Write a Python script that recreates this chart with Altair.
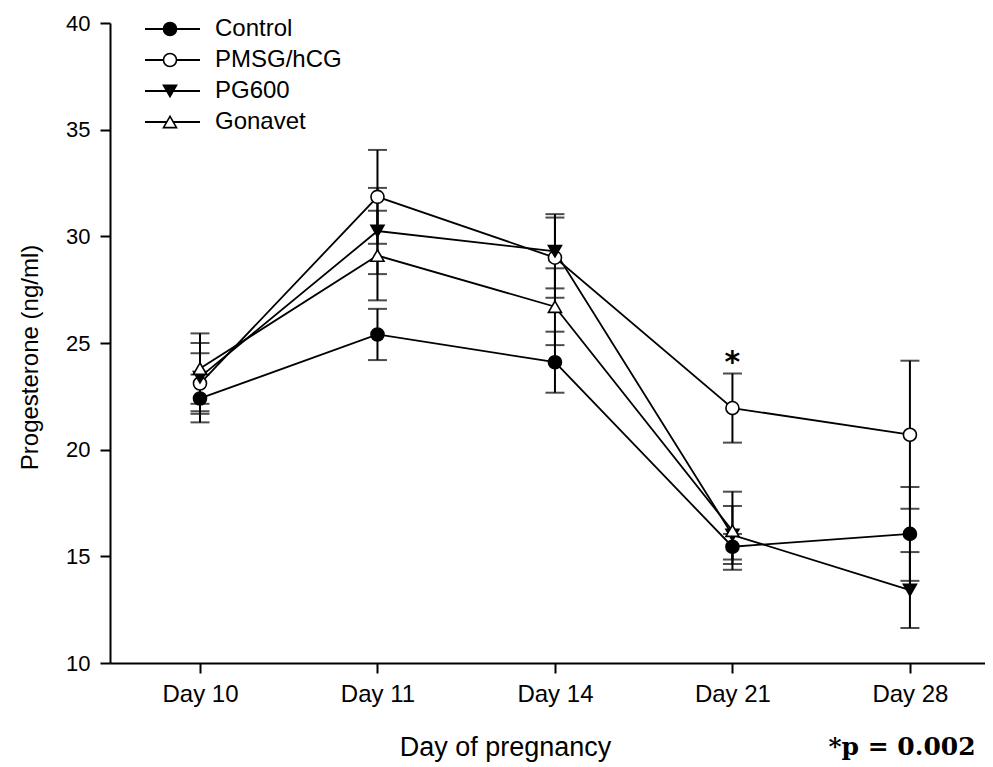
import altair as alt
import pandas as pd

days = ["Day 10", "Day 11", "Day 14", "Day 21", "Day 28"]
groups = ["Control", "PMSG/hCG", "PG600", "Gonavet"]

control_mean = [22.4, 25.4, 24.1, 15.45, 16.05]
control_sem = [1.12, 1.2, 1.43, 0.6, 2.2]
pmsg_mean = [23.1, 31.85, 29.0, 21.95, 20.7]
pmsg_sem = [1.42, 2.2, 1.88, 1.62, 3.47]
pg600_mean = [23.4, 30.25, 29.3, 16.0, 13.42]
pg600_sem = [1.6, 2.02, 1.74, 1.36, 1.78]
gonavet_mean = [23.8, 29.1, 26.7, 16.2, None]
gonavet_sem = [1.65, 2.1, 1.8, 1.83, None]

shapes = ["circle", "circle", "triangle-down", "triangle-up"]
fills = ["black", "white", "black", "white"]

means = [control_mean, pmsg_mean, pg600_mean, gonavet_mean]
sems = [control_sem, pmsg_sem, pg600_sem, gonavet_sem]

rows = []
for g, m_list, s_list in zip(groups, means, sems):
    for i, (d, m, s) in enumerate(zip(days, m_list, s_list)):
        if m is None:
            continue
        rows.append({"group": g, "idx": i, "day": d, "mean": m,
                     "lo": m - s, "hi": m + s})
df = pd.DataFrame(rows)

leg = pd.DataFrame({"group": groups, "i": list(range(len(groups)))})
star = pd.DataFrame({"idx": [3], "y": [24.35], "t": ["*"]})

FONT = "Liberation Sans"
YMIN, YMAX = 10, 40
H = 640
W = 875

xscale = alt.Scale(domain=[-0.507, 4.423], nice=False, zero=False)
yscale = alt.Scale(domain=[YMIN, YMAX], nice=False, zero=False)
shape_scale = alt.Scale(domain=groups, range=shapes)
fill_scale = alt.Scale(domain=groups, range=fills)

label_expr = "[" + ",".join("'" + d + "'" for d in days) + "][datum.value]"

xaxis = alt.Axis(values=list(range(len(days))), labelExpr=label_expr,
                 grid=False, domainColor="black", domainWidth=2,
                 tickColor="black", tickWidth=2, tickSize=10,
                 labelFont=FONT, labelFontSize=24, labelColor="black",
                 labelPadding=9,
                 title="Day of pregnancy", titleFont=FONT, titleFontSize=27,
                 titleFontWeight="normal", titleColor="black",
                 titleX=395, titleY=84, titleAlign="center",
                 titleBaseline="middle")
yaxis = alt.Axis(values=list(range(10, 41, 5)), grid=False,
                 domainColor="black", domainWidth=2,
                 tickColor="black", tickWidth=2, tickSize=10,
                 labelFont=FONT, labelFontSize=22, labelColor="black",
                 labelPadding=10,
                 title="Progesterone (ng/ml)", titleFont=FONT,
                 titleFontSize=24, titleFontWeight="normal",
                 titleColor="black", titleX=-80, titleY=334,
                 titleAlign="center", titleBaseline="middle")

base = alt.Chart(df)

lines = base.mark_line(color="black", strokeWidth=1.8).encode(
    x=alt.X("idx:Q", scale=xscale, axis=xaxis),
    y=alt.Y("mean:Q", scale=yscale, axis=yaxis),
    detail="group:N",
)

err = base.mark_rule(color="black", strokeWidth=2).encode(
    x="idx:Q", y="lo:Q", y2="hi:Q")
cap_lo = base.mark_tick(color="black", orient="horizontal", size=19,
                        thickness=2).encode(x="idx:Q", y="lo:Q")
cap_hi = base.mark_tick(color="black", orient="horizontal", size=19,
                        thickness=2).encode(x="idx:Q", y="hi:Q")

pts = base.mark_point(filled=True, stroke="black", strokeWidth=1.6,
                      opacity=1, size=170).encode(
    x="idx:Q", y="mean:Q",
    shape=alt.Shape("group:N", scale=shape_scale, legend=None),
    fill=alt.Fill("group:N", scale=fill_scale, legend=None),
)

star_mark = alt.Chart(star).mark_text(
    font="DejaVu Sans", fontWeight="bold", fontSize=30, color="black",
    baseline="middle", dy=6).encode(x="idx:Q", y="y:Q", text="t:N")

# legend, rows 31 px apart starting 6 px below top of plot
px_per_unit = H / (YMAX - YMIN)
legbase = alt.Chart(leg).transform_calculate(
    ly=f"{YMAX} - (6 + 31*datum.i) / {px_per_unit}")
leg_line = legbase.mark_rule(color="black", strokeWidth=1.8).encode(
    x=alt.value(35), x2=alt.value(90), y="ly:Q")
leg_pts = legbase.mark_point(filled=True, stroke="black", strokeWidth=1.6,
                             opacity=1, size=170).encode(
    x=alt.value(60), y="ly:Q",
    shape=alt.Shape("group:N", scale=shape_scale, legend=None),
    fill=alt.Fill("group:N", scale=fill_scale, legend=None),
)
leg_txt = legbase.mark_text(font=FONT, fontSize=24, align="left",
                            baseline="middle", color="black").encode(
    x=alt.value(105), y="ly:Q", text="group:N")

ptext = alt.Chart(pd.DataFrame({"t": ["*p = 0.002"]})).mark_text(
    font="DejaVu Serif", fontWeight="bold", fontSize=25, color="black",
    align="center", baseline="middle").encode(
    x=alt.value(792), y=alt.value(724), text="t:N")

chart = alt.layer(lines, err, cap_lo, cap_hi, pts, star_mark,
                  leg_line, leg_pts, leg_txt, ptext).properties(
    width=W, height=H,
    autosize=alt.AutoSizeParams(type="none"),
    padding={"left": 102, "top": 15, "right": 0, "bottom": 102},
    background="white",
).configure_view(stroke=None)

chart.save("out.html", embed_options={"renderer": "svg", "actions": False})
